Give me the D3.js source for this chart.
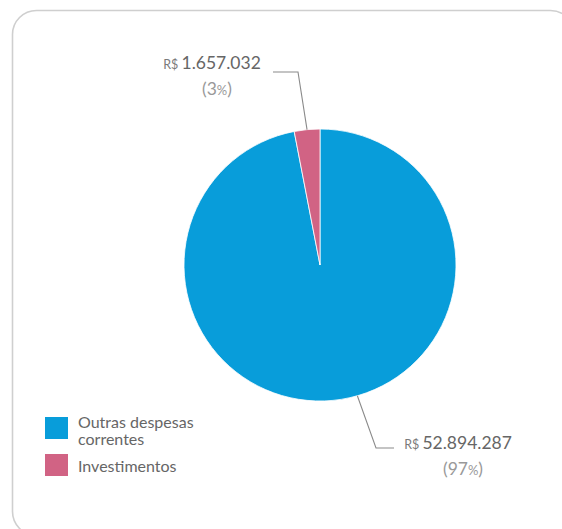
<!DOCTYPE html>
<html>
<head>
<meta charset="utf-8">
<script src="https://cdn.jsdelivr.net/npm/d3@7"></script>
<style>
  html, body { margin: 0; padding: 0; background: #fff; }
  svg { display: block; }
  text { font-family: Lato, "Open Sans", sans-serif; }
</style>
</head>
<body>
<svg id="chart" width="562" height="529"></svg>
<script>
// Despesas por categoria (R$)
const categories = ["Outras despesas correntes", "Investimentos"];
const values = [52894287, 1657032];
const valueLabels = ["52.894.287", "1.657.032"];
const percentLabels = ["97", "3"];
const colors = ["#089dda", "#d16384"];

const svg = d3.select("#chart");

// card frame
svg.append("rect")
  .attr("x", 12.5).attr("y", 10.5)
  .attr("width", 562).attr("height", 525)
  .attr("rx", 24).attr("ry", 24)
  .attr("fill", "#fff")
  .attr("stroke", "#cfcfcf")
  .attr("stroke-width", 1.6);

const cx = 320, cy = 265, r = 136;
const g = svg.append("g").attr("transform", `translate(${cx},${cy})`);

const pie = d3.pie().sort(null).value(d => d);
const arcs = pie(values);
const arc = d3.arc().innerRadius(0).outerRadius(r);

g.selectAll("path.slice")
  .data(arcs)
  .join("path")
  .attr("class", "slice")
  .attr("d", arc)
  .attr("fill", (d, i) => colors[i])
  .attr("stroke", "#fff")
  .attr("stroke-width", 0.8);

// leader lines and value labels
// anchorT: fraction along the slice where the line leaves the rim
const labelLayout = [
  { anchorT: 0.47, elbow: [376, 448], end: [394, 448], textX: 458, textY: 449 },
  { anchorT: 0.5, elbow: [298, 72], end: [273, 72], textX: 212, textY: 69 }
];

arcs.forEach((a, i) => {
  const L = labelLayout[i];
  const ang = a.startAngle + (a.endAngle - a.startAngle) * L.anchorT;
  const px = cx + r * Math.sin(ang), py = cy - r * Math.cos(ang);
  svg.append("polyline")
    .attr("points", `${px},${py} ${L.elbow[0]},${L.elbow[1]} ${L.end[0]},${L.end[1]}`)
    .attr("fill", "none")
    .attr("stroke", "#8a8a8a")
    .attr("stroke-width", 1.1);

  const t = svg.append("text")
    .attr("x", L.textX).attr("y", L.textY)
    .attr("text-anchor", "middle")
    .attr("fill", "#666");
  t.append("tspan").attr("font-size", 12.5).attr("fill", "#7a7a7a").text("R$ ");
  t.append("tspan").attr("font-size", 17.5).text(valueLabels[i]);

  const p = svg.append("text")
    .attr("x", L.textX + 5).attr("y", L.textY + 26)
    .attr("text-anchor", "middle")
    .attr("fill", "#999");
  p.append("tspan").attr("font-size", 17.5).text("(" + percentLabels[i]);
  p.append("tspan").attr("font-size", 13).text("%");
  p.append("tspan").attr("font-size", 17.5).text(")");
});

// legend
const legend = svg.append("g");
const legendRows = [
  { y: 417, baseline: 428, lines: ["Outras despesas", "correntes"] },
  { y: 454, baseline: 472, lines: ["Investimentos"] }
];
categories.forEach((c, i) => {
  const row = legendRows[i];
  legend.append("rect")
    .attr("x", 45).attr("y", row.y)
    .attr("width", 23).attr("height", 22)
    .attr("fill", colors[i]);
  row.lines.forEach((ln, k) => {
    legend.append("text")
      .attr("x", 78).attr("y", row.baseline + k * 17)
      .attr("font-size", 16)
      .attr("fill", "#666")
      .text(ln);
  });
});
</script>
</body>
</html>
